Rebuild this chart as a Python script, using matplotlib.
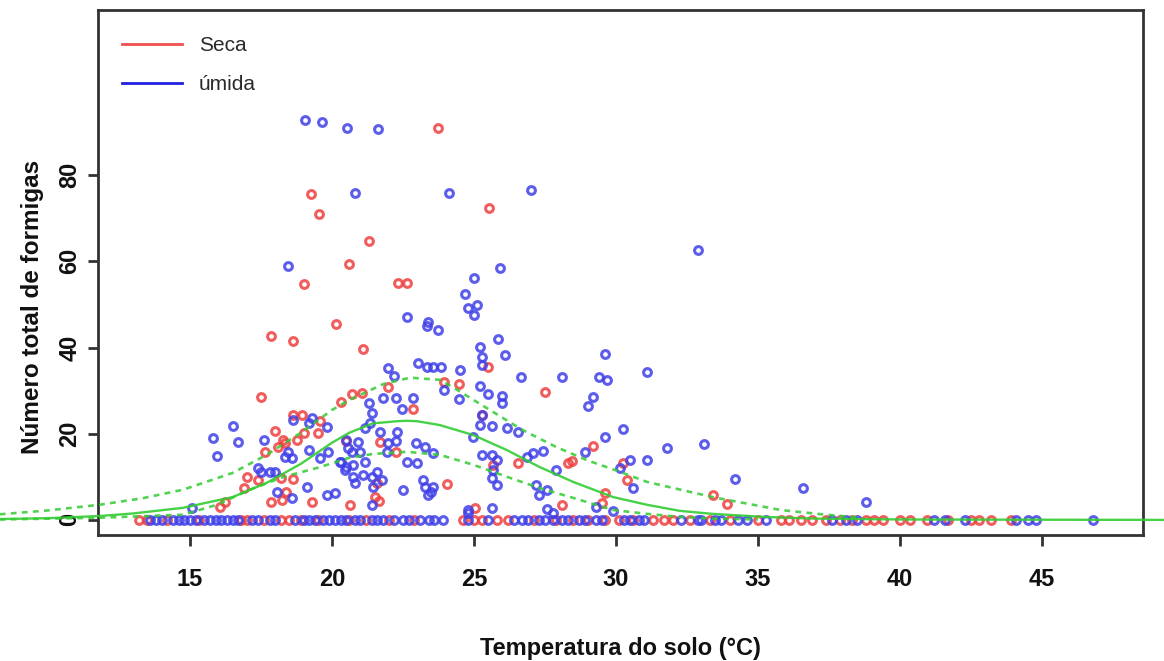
import numpy as np
import matplotlib
matplotlib.use("Agg")
import matplotlib.pyplot as plt
from matplotlib.lines import Line2D

plt.rcParams['font.family'] = ['Liberation Sans', 'DejaVu Sans']

# ─── dados: formigas x temperatura do solo ───────────────
seca_temp = [23.73, 19.26, 25.53, 19.54, 21.3, 20.6, 19.0, 22.32, 22.64, 20.14,
             17.85, 18.63, 21.1, 25.5, 17.5, 20.7, 21.06, 20.3, 21.97, 23.94,
             24.47, 27.5, 22.85, 25.3, 20.5, 21.7, 22.25, 25.67, 26.55, 28.3,
             28.45, 21.6, 24.05, 21.5, 21.65, 20.63, 28.1, 25.04, 29.2, 30.25,
             30.4, 33.4, 33.9, 29.6, 29.5, 18.63, 18.94, 19.58, 18.0, 19.0,
             19.5, 18.27, 18.35, 18.1, 18.77, 17.64, 17.0, 17.4, 18.2, 18.63,
             16.9, 18.38, 17.85, 18.24, 19.3, 16.06, 16.23]
seca_n = [91.0, 75.6, 72.4, 71.0, 64.7, 59.4, 54.8, 55.0, 55.0, 45.5,
          42.7, 41.5, 39.7, 35.5, 28.5, 29.2, 29.5, 27.4, 30.9, 32.0,
          31.6, 29.7, 25.8, 24.4, 18.3, 18.1, 15.8, 12.8, 13.2, 13.2,
          13.7, 8.6, 8.4, 5.3, 4.4, 3.5, 3.5, 2.8, 17.2, 13.2,
          9.3, 5.8, 3.7, 6.3, 3.9, 24.4, 24.4, 23.0, 20.6, 20.2,
          20.2, 18.6, 17.9, 16.9, 18.6, 15.8, 10.0, 9.3, 9.7, 9.5,
          7.4, 6.5, 4.2, 4.6, 4.2, 3.0, 4.2]

# pontos com zero formigas (estação seca)
seca_zero_temp = [13.2, 13.5, 14.2, 15.3, 16.8, 17.0, 17.6, 18.2, 18.5, 18.9,
                  19.5, 20.6, 21.2, 22.0, 22.9, 24.6, 25.0, 25.3, 25.8, 26.2,
                  27.1, 27.9, 28.5, 29.0, 29.6, 30.1, 30.6, 31.3, 31.7, 32.0,
                  32.6, 33.3, 34.0, 35.0, 35.8, 36.1, 36.5, 36.9, 37.4, 37.9,
                  38.3, 38.8, 39.1, 39.4, 40.0, 40.35, 40.95, 41.7, 42.5, 42.8,
                  43.2, 43.9]

umida_temp = [19.05, 19.65, 20.53, 21.62, 20.8, 24.12, 27.0, 18.45, 25.0, 25.9,
              24.7, 32.9, 24.79, 25.1, 25.0, 22.64, 23.38, 23.35, 23.73, 25.85,
              25.2, 25.3, 26.1, 25.3, 23.03, 23.35, 23.56, 23.84, 21.97, 22.2,
              24.5, 26.65, 28.1, 23.94, 25.2, 25.5, 26.0, 21.3, 21.8, 22.25,
              22.85, 29.6, 29.4, 29.7, 31.1, 29.2, 29.0, 30.25, 29.6, 28.9,
              31.8, 33.1, 30.5, 31.1, 30.14, 30.6, 34.2, 36.6, 38.8, 29.3,
              29.9, 21.4, 22.46, 24.47, 26.0, 25.3, 25.2, 25.63, 26.16, 26.55,
              21.34, 21.16, 21.7, 22.3, 20.9, 21.97, 22.25, 22.96, 23.27, 23.56,
              24.97, 21.94, 20.56, 20.7, 20.99, 20.28, 20.74, 21.16, 22.64, 22.99,
              25.3, 25.63, 25.8, 25.67, 25.63, 25.8, 26.87, 27.08, 27.43, 27.9,
              20.46, 20.74, 21.1, 21.4, 21.6, 21.76, 20.8, 21.44, 23.2, 23.27,
              23.56, 23.5, 23.38, 22.5, 21.4, 27.3, 27.57, 27.2, 24.79, 24.8,
              25.63, 27.57, 27.8, 18.63, 19.3, 19.2, 19.82, 16.5, 15.8, 16.7,
              17.6, 15.95, 18.45, 18.35, 18.6, 19.2, 19.58, 19.86, 20.3, 20.5,
              20.5, 17.4, 17.5, 17.8, 18.0, 18.06, 18.6, 19.12, 19.82, 20.1,
              15.07]
umida_n = [92.8, 92.3, 91.0, 90.7, 75.9, 75.9, 76.6, 59.0, 56.1, 58.5,
           52.4, 62.6, 49.2, 49.9, 47.6, 47.1, 45.9, 45.0, 44.1, 42.0,
           40.1, 37.8, 38.3, 36.0, 36.4, 35.5, 35.5, 35.5, 35.3, 33.4,
           34.8, 33.2, 33.2, 30.2, 31.1, 29.2, 28.8, 27.1, 28.3, 28.3,
           28.3, 38.5, 33.2, 32.5, 34.3, 28.5, 26.4, 21.1, 19.3, 15.8,
           16.7, 17.6, 13.9, 13.9, 12.1, 7.4, 9.5, 7.4, 4.2, 3.0,
           2.1, 24.8, 25.8, 28.1, 27.1, 24.4, 22.0, 21.8, 21.3, 20.4,
           22.5, 21.3, 20.4, 20.4, 18.1, 17.9, 18.3, 17.9, 16.9, 15.5,
           19.3, 15.8, 16.7, 15.8, 15.8, 13.5, 12.8, 13.5, 13.5, 13.2,
           15.1, 15.1, 13.9, 11.6, 9.7, 8.1, 14.6, 15.5, 16.0, 11.6,
           11.6, 10.0, 10.4, 10.0, 11.1, 9.3, 8.6, 7.7, 9.3, 7.7,
           7.7, 6.5, 5.8, 7.0, 3.5, 5.8, 7.0, 8.0, 2.3, 1.6,
           2.8, 2.6, 1.6, 23.2, 23.7, 22.5, 21.6, 21.8, 19.0, 18.1,
           18.6, 14.8, 15.8, 14.6, 14.4, 16.2, 14.4, 15.8, 13.5, 12.3,
           18.6, 12.1, 11.1, 11.1, 11.1, 6.5, 5.1, 7.7, 5.8, 6.3,
           2.8]

umida_zero_temp = [13.6, 13.8, 14.0, 14.4, 14.6, 14.8, 15.0, 15.2, 15.5, 15.7,
                   15.9, 16.1, 16.3, 16.5, 16.7, 17.2, 17.4, 17.8, 18.0, 18.7,
                   19.0, 19.2, 19.4, 19.7, 19.9, 20.1, 20.3, 20.5, 20.8, 21.0,
                   21.4, 21.6, 21.8, 22.2, 22.5, 22.7, 23.1, 23.4, 23.6, 23.9,
                   24.8, 25.5, 26.4, 26.7, 26.9, 27.3, 27.5, 27.8, 28.1, 28.3,
                   28.7, 28.9, 29.3, 29.5, 30.3, 30.5, 30.8, 31.0, 32.3, 32.9,
                   33.0, 33.5, 33.7, 34.3, 34.6, 35.3, 37.6, 38.1, 38.5, 41.2,
                   41.6, 42.3, 44.1, 44.5, 44.8, 46.8]

# curva ajustada e banda de confiança
ajuste_temp = [8.3, 10.0, 11.8, 13.0, 14.75, 16.5, 17.7, 18.9, 20.0, 20.6,
               21.44, 22.3, 22.64, 23.0, 23.8, 24.97, 26.16, 27.3, 28.5, 29.9,
               31.1, 32.25, 33.4, 35.2, 37.0, 40.0, 49.3]
ajuste = [0.2, 0.4, 0.9, 1.5, 2.8, 5.3, 8.6, 13.0, 17.9, 20.2,
          22.4, 22.9, 23.0, 22.9, 22.0, 19.7, 16.2, 12.3, 8.8, 5.3,
          3.5, 2.1, 1.4, 0.7, 0.3, 0.1, 0.0]

sup_temp = [8.3, 10.0, 11.8, 13.3, 14.75, 16.5, 17.7, 18.9, 20.0, 20.6,
            21.8, 22.75, 23.8, 24.4, 25.56, 26.7, 27.9, 29.0, 30.0, 31.1,
            33.4, 35.8, 37.4, 38.5]
sup = [1.3, 2.2, 3.5, 5.0, 7.0, 10.9, 15.1, 20.2, 25.5, 27.8,
       31.5, 33.0, 32.5, 30.2, 25.5, 20.9, 16.9, 13.8, 11.5, 8.8,
       5.3, 2.3, 1.2, 0.6]

inf_temp = [8.3, 11.8, 14.75, 15.95, 17.1, 18.3, 19.5, 20.6, 21.44, 22.64,
            23.8, 24.97, 26.16, 27.3, 28.5, 29.9, 31.1, 32.25, 33.4, 35.0]
inf = [0.1, 0.5, 1.2, 3.5, 7.0, 10.0, 12.1, 14.4, 15.3, 15.8,
       15.1, 12.8, 10.0, 7.4, 5.1, 2.3, 1.4, 0.7, 0.3, 0.1]

# ─── figura ─────────────────────────────────────────────
W, H = 1164, 661
fig = plt.figure(figsize=(W / 100, H / 100), dpi=100)
fig.patch.set_facecolor('white')
ax = fig.add_axes([98 / W, 1 - 535 / H, (1143 - 98) / W, (535 - 10) / H])

RED = '#EE4040'
BLUE = '#4040E8'
GREEN = '#33CC33'

ms, mew = 5.6, 2.2
ax.plot(seca_zero_temp, np.zeros(len(seca_zero_temp)), 'o', mfc='none', mec=RED,
        ms=ms, mew=mew, alpha=0.85, zorder=3)
ax.plot(umida_zero_temp, np.zeros(len(umida_zero_temp)), 'o', mfc='none', mec=BLUE,
        ms=ms, mew=mew, alpha=0.85, zorder=3)
ax.plot(seca_temp, seca_n, 'o', mfc='none', mec=RED, ms=ms, mew=mew,
        alpha=0.85, zorder=3)
ax.plot(umida_temp, umida_n, 'o', mfc='none', mec=BLUE, ms=ms, mew=mew,
        alpha=0.85, zorder=3)

# curvas (fora da área também, como no R com xpd=TRUE)
ax.plot(ajuste_temp, ajuste, '-', color=GREEN, lw=1.7, clip_on=False, zorder=4,
        alpha=0.9)
ax.plot(sup_temp, sup, color=GREEN, lw=1.9, dashes=(2.2, 2.0), clip_on=False,
        zorder=4, alpha=0.85)
ax.plot(inf_temp, inf, color=GREEN, lw=1.9, dashes=(2.2, 2.0), clip_on=False,
        zorder=4, alpha=0.85)

ax.set_xlim(11.76, 48.56)
ax.set_ylim(-3.5, 118.3)
ax.set_xticks([15, 20, 25, 30, 35, 40, 45])
ax.set_yticks([0, 20, 40, 60, 80])

for s in ax.spines.values():
    s.set_color('#333333')
    s.set_linewidth(2.0)

ax.tick_params(axis='x', direction='out', length=8, width=2, color='#333333',
               pad=16, labelsize=17)
ax.tick_params(axis='y', direction='out', length=7, width=2, color='#333333',
               pad=5, labelsize=17, labelrotation=90)
for lab in ax.get_xticklabels() + ax.get_yticklabels():
    lab.set_fontweight('bold')
    lab.set_color('#111111')
for lab in ax.get_yticklabels():
    lab.set_va('center')

fig.text(620 / W, 1 - 648 / H, 'Temperatura do solo (°C)', ha='center', va='center',
         fontsize=17, fontweight='bold', color='#111111')
fig.text(33 / W, 1 - 307 / H, 'Número total de formigas', ha='center', va='center',
         rotation=90, fontsize=17.5, fontweight='bold', color='#111111')

handles = [Line2D([], [], color='#F05050', lw=2.0),
           Line2D([], [], color='#2020E0', lw=2.0)]
leg = ax.legend(handles, ['Seca', 'úmida'], loc='upper left',
                bbox_to_anchor=(0.023, 0.95), frameon=False, fontsize=15,
                handlelength=2.9, handletextpad=0.8, labelspacing=0.95,
                borderpad=0, borderaxespad=0)
for t in leg.get_texts():
    t.set_color('#2a2a2a')

fig.savefig('out.png', dpi=100, facecolor='white')
